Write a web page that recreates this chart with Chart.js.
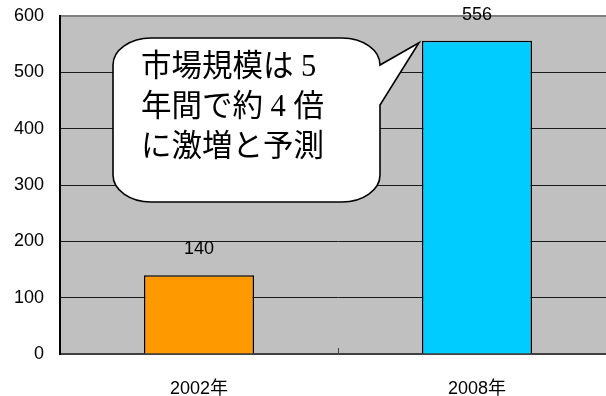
<!DOCTYPE html>
<html>
<head>
<meta charset="utf-8">
<script src="https://cdn.jsdelivr.net/npm/chart.js@4.4.0/dist/chart.umd.min.js"></script>
<style>
  html, body { margin: 0; padding: 0; background: #fff; overflow: hidden; }
  #wrap { position: relative; width: 616px; height: 396px; }
</style>
</head>
<body>
<div id="wrap"><canvas id="chart"></canvas></div>
<script>
// market size by year
const categories = ['2002年', '2008年'];
const marketSize = [140, 556];
const barColors = ['#ff9900', '#00ccff'];
const yMin = 0;
const yMax = 600;
const yStep = 100;
const calloutLines = ['市場規模は 5', '年間で約 4 倍', 'に激増と予測'];

const LABEL_FONT = '18px "Liberation Sans", Arial, "Noto Sans CJK JP", sans-serif';

// grey plot background, drawn before the grid
const plotBackground = {
    id: 'plotBackground',
    beforeDraw: chart => {
        const { ctx, chartArea: a } = chart;
        ctx.save();
        ctx.fillStyle = '#c0c0c0';
        ctx.fillRect(a.left, a.top, a.right - a.left, a.bottom - a.top);
        ctx.restore();
    }
};

// value labels, category divider tick and the speech bubble
const overlays = {
    id: 'overlays',
    afterDatasetsDraw: chart => {
        const { ctx, chartArea: a, scales: { x } } = chart;
        const bars = chart.getDatasetMeta(0).data;

        // small inward tick between the two categories
        ctx.save();
        ctx.strokeStyle = '#404040';
        ctx.lineWidth = 1;
        for (let i = 0; i < categories.length - 1; i++) {
            const px = Math.round((x.getPixelForValue(i) + x.getPixelForValue(i + 1)) / 2) + 0.5;
            ctx.beginPath();
            ctx.moveTo(px, a.bottom);
            ctx.lineTo(px, a.bottom - 6);
            ctx.stroke();
        }
        ctx.restore();

        // speech bubble pointing at the 2008 bar
        const L = a.left + 53, T = a.top + 22, R = a.left + 320, B = a.top + 186;
        const rx = 38, ry = 27, k = 0.5523;
        const target = bars[1];
        const tipX = target.x - target.width / 2 - 3;
        const tipY = target.y + 2;

        ctx.save();
        ctx.beginPath();
        ctx.moveTo(L + rx, T);
        ctx.lineTo(R - rx, T);
        ctx.bezierCurveTo(R - rx + rx * k, T, R, T + ry - ry * k, R, T + ry);
        ctx.lineTo(tipX, tipY);
        ctx.lineTo(R, T + 67);
        ctx.lineTo(R, B - ry);
        ctx.bezierCurveTo(R, B - ry + ry * k, R - rx + rx * k, B, R - rx, B);
        ctx.lineTo(L + rx, B);
        ctx.bezierCurveTo(L + rx - rx * k, B, L, B - ry + ry * k, L, B - ry);
        ctx.lineTo(L, T + ry);
        ctx.bezierCurveTo(L, T + ry - ry * k, L + rx - rx * k, T, L + rx, T);
        ctx.closePath();
        ctx.fillStyle = '#ffffff';
        ctx.fill();
        ctx.lineWidth = 1.6;
        ctx.strokeStyle = '#000000';
        ctx.lineJoin = 'miter';
        ctx.stroke();

        ctx.fillStyle = '#000000';
        ctx.font = '30.5px "Liberation Serif", "Noto Sans CJK JP", sans-serif';
        ctx.textAlign = 'left';
        ctx.textBaseline = 'middle';
        calloutLines.forEach((line, i) => {
            ctx.fillText(line, L + 28, T + 30 + i * 40);
        });
        ctx.restore();
    },
    afterDraw: chart => {
        const { ctx } = chart;
        const bars = chart.getDatasetMeta(0).data;
        ctx.save();
        ctx.font = LABEL_FONT;
        ctx.fillStyle = '#000000';
        ctx.textAlign = 'center';
        ctx.textBaseline = 'middle';
        bars.forEach((bar, i) => {
            ctx.fillText(String(marketSize[i]), bar.x, bar.y - 26);
        });
        ctx.restore();
    }
};

new Chart(document.getElementById('chart'), {
    type: 'bar',
    data: {
        labels: categories,
        datasets: [{
            data: marketSize,
            backgroundColor: barColors,
            borderColor: '#000000',
            borderWidth: 1.5,
            categoryPercentage: 1.0,
            barPercentage: 0.396
        }]
    },
    options: {
        responsive: true,
        maintainAspectRatio: false,
        animation: false,
        layout: { padding: { top: 16, right: 0, left: 0, bottom: 0 } },
        plugins: {
            legend: { display: false },
            tooltip: { enabled: false }
        },
        scales: {
            x: {
                grid: { display: false, drawTicks: false },
                border: { display: true, color: '#404040', width: 2 },
                ticks: { color: '#000000', font: { family: '"Liberation Sans", Arial, "Noto Sans CJK JP", sans-serif', size: 18 }, padding: 24 },
                afterFit: scale => { scale.height = 42; }
            },
            y: {
                min: yMin,
                max: yMax,
                ticks: { stepSize: yStep, color: '#000000', font: { family: '"Liberation Sans", Arial, sans-serif', size: 18 }, padding: 16 },
                grid: {
                    drawTicks: false,
                    color: c => c.tick.value === yMax ? '#808080' : (c.tick.value === yMin ? 'rgba(0,0,0,0)' : '#1a1a1a'),
                    lineWidth: c => c.tick.value === yMax ? 2 : 1
                },
                border: { display: true, color: '#000000', width: 2 },
                afterFit: scale => {
                    scale.width = 60;
                    scale.paddingTop = 0;
                    scale.paddingBottom = 0;
                }
            }
        }
    },
    plugins: [plotBackground, overlays]
});
</script>
</body>
</html>
